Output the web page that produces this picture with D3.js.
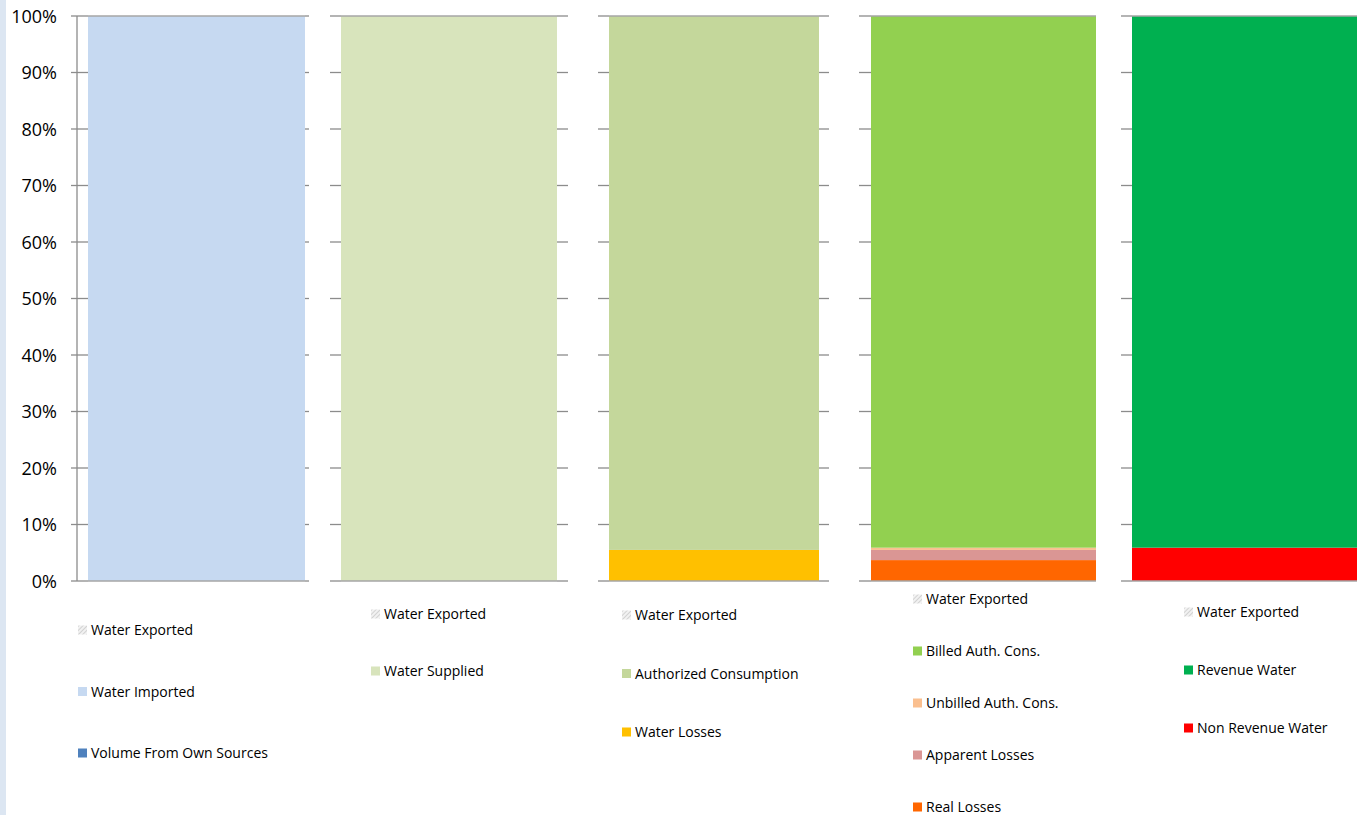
<!DOCTYPE html>
<html>
<head>
<meta charset="utf-8">
<script src="https://cdn.jsdelivr.net/npm/d3@7"></script>
<style>
  html, body { margin: 0; padding: 0; background: #fff; }
  svg { display: block; }
  .ylab { font-family: "Open Sans", sans-serif; font-size: 18px; fill: #000; }
  .leg { font-family: "Open Sans", sans-serif; font-size: 14px; fill: #000; }
</style>
</head>
<body>
<svg id="chart" width="1357" height="815"></svg>
<script>
// values in percent, bottom of stack first
const yTicks = [0, 10, 20, 30, 40, 50, 60, 70, 80, 90, 100];

const sourcesNames = ["Volume From Own Sources", "Water Imported", "Water Exported"];
const sourcesValues = [0, 100, 0];

const suppliedNames = ["Water Supplied", "Water Exported"];
const suppliedValues = [100, 0];

const balanceNames = ["Water Losses", "Authorized Consumption", "Water Exported"];
const balanceValues = [5.5, 94.5, 0];

const componentNames = ["Real Losses", "Apparent Losses", "Unbilled Auth. Cons.", "Billed Auth. Cons.", "Water Exported"];
const componentValues = [3.7, 1.8, 0.4, 94.1, 0];

const revenueNames = ["Non Revenue Water", "Revenue Water", "Water Exported"];
const revenueValues = [5.9, 94.1, 0];

const colors = {
  "Volume From Own Sources": "#4f81bd",
  "Water Imported": "#c6d9f1",
  "Water Supplied": "#d8e4bc",
  "Authorized Consumption": "#c4d79b",
  "Water Losses": "#ffc000",
  "Billed Auth. Cons.": "#92d050",
  "Unbilled Auth. Cons.": "#fabf8f",
  "Apparent Losses": "#da9694",
  "Real Losses": "#ff6600",
  "Revenue Water": "#00b050",
  "Non Revenue Water": "#ff0000",
  "Water Exported": "url(#hatch)"
};

// panel geometry: bar span, tick reach, legend placement
const panels = [
  { names: sourcesNames, values: sourcesValues, x0: 88, x1: 305, tl: 71, tr: 309, axis: 77, lx: 78, ly: 630, gap: 61.5 },
  { names: suppliedNames, values: suppliedValues, x0: 341, x1: 557, tl: 330, tr: 568, lx: 371, ly: 614, gap: 57 },
  { names: balanceNames, values: balanceValues, x0: 609, x1: 819, tl: 598, tr: 829, lx: 622, ly: 615, gap: 58.5 },
  { names: componentNames, values: componentValues, x0: 871, x1: 1096, tl: 859, tr: null, lx: 913, ly: 599, gap: 52 },
  { names: revenueNames, values: revenueValues, x0: 1132, x1: 1357, tl: 1121, tr: null, lx: 1184, ly: 612, gap: 58 }
];

const svg = d3.select("#chart");

const defs = svg.append("defs");
const pat = defs.append("pattern")
  .attr("id", "hatch")
  .attr("patternUnits", "userSpaceOnUse")
  .attr("width", 3).attr("height", 3)
  .attr("patternTransform", "rotate(45)");
pat.append("rect").attr("width", 3).attr("height", 3).attr("fill", "#f2f2f2");
pat.append("line").attr("x1", 0).attr("y1", 0).attr("x2", 0).attr("y2", 3)
  .attr("stroke", "#c8c8c8").attr("stroke-width", 1.5);

// pale strip at the left edge
svg.append("rect").attr("x", 0).attr("y", 0).attr("width", 6).attr("height", 815).attr("fill", "#dce6f2");

const y = d3.scaleLinear().domain([0, 100]).range([581, 16]);

// y labels
svg.append("g").selectAll("text")
  .data(yTicks)
  .join("text")
  .attr("class", "ylab")
  .attr("x", 57)
  .attr("y", d => y(d) + 6.5)
  .attr("text-anchor", "end")
  .text(d => d + "%");

panels.forEach(p => {
  const g = svg.append("g");

  // stack the series
  const row = {};
  p.names.forEach((n, i) => row[n] = p.values[i]);
  const series = d3.stack().keys(p.names)([row]);

  g.selectAll("rect.bar")
    .data(series)
    .join("rect")
    .attr("class", "bar")
    .attr("x", p.x0)
    .attr("width", p.x1 - p.x0)
    .attr("y", d => y(d[0][1]))
    .attr("height", d => y(d[0][0]) - y(d[0][1]))
    .attr("fill", d => colors[d.key]);

  // tick marks
  g.selectAll("line.tl")
    .data(yTicks)
    .join("line")
    .attr("x1", p.tl).attr("x2", p.x0)
    .attr("y1", d => y(d)).attr("y2", d => y(d))
    .attr("stroke", "#8c8c8c").attr("stroke-width", 1.3);

  if (p.tr) {
    g.selectAll("line.tr")
      .data(yTicks)
      .join("line")
      .attr("x1", p.x1).attr("x2", p.tr)
      .attr("y1", d => y(d)).attr("y2", d => y(d))
      .attr("stroke", "#8c8c8c").attr("stroke-width", 1.3);
  }

  // top and bottom lines across the bar
  [0, 100].forEach(v => {
    g.append("line")
      .attr("x1", p.x0).attr("x2", p.x1)
      .attr("y1", y(v)).attr("y2", y(v))
      .attr("stroke", "#a6a6a6").attr("stroke-width", 1.3);
  });

  if (p.axis) {
    g.append("line")
      .attr("x1", p.axis).attr("x2", p.axis)
      .attr("y1", y(100)).attr("y2", y(0))
      .attr("stroke", "#8c8c8c").attr("stroke-width", 1.3);
  }

  // legend, top item is the top of the stack
  const legNames = p.names.slice().reverse();
  const lg = g.selectAll("g.leg")
    .data(legNames)
    .join("g")
    .attr("transform", (d, i) => `translate(${p.lx},${p.ly + i * p.gap})`);
  lg.append("rect")
    .attr("x", 0).attr("y", -4.5)
    .attr("width", 9).attr("height", 9)
    .attr("fill", d => colors[d]);
  lg.append("text")
    .attr("class", "leg")
    .attr("x", 13).attr("y", 5)
    .text(d => d);
});
</script>
</body>
</html>
